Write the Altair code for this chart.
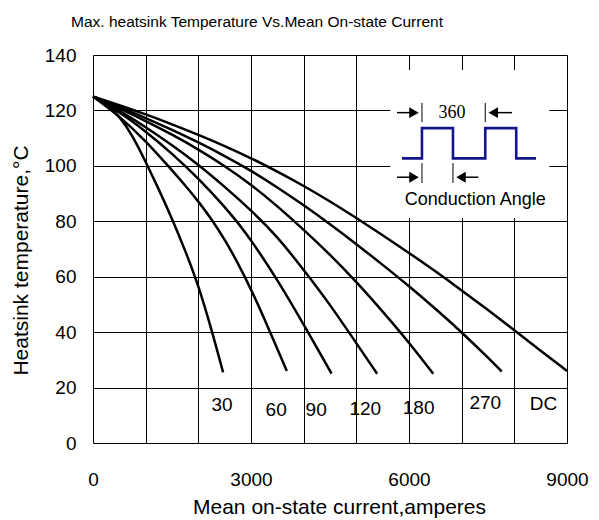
import altair as alt
import pandas as pd

# Heatsink temperature (degC) against mean on-state current (A), one curve per conduction angle
cur_30 = [0, 250, 500, 750, 1000, 1250, 1500, 1750, 2000, 2250, 2470]
temp_30 = [125, 122.5, 118, 111, 101.5, 91.5, 81, 69.5, 57, 41, 25.5]

cur_60 = [0, 500, 1000, 1424, 1750, 2000, 2250, 2500, 2750, 3000, 3250, 3500, 3680]
temp_60 = [125, 118, 109, 100, 93, 87.2, 80.8, 73.5, 65, 55.5, 45, 34, 26]

cur_90 = [0, 500, 1000, 1500, 2000, 2500, 2750, 3000, 3500, 4000, 4530]
temp_90 = [125, 119.5, 112.5, 104.5, 95.5, 85.3, 79.5, 73.3, 59, 42.8, 25]

cur_120 = [0, 500, 1000, 1500, 2000, 2500, 3000, 3500, 4000, 4500, 5000, 5395]
temp_120 = [125, 120, 114, 107.5, 100.5, 92.5, 84, 74.5, 62.5, 50, 36, 25]

cur_180 = [0, 500, 1000, 1500, 2000, 2500, 3000, 3500, 4000, 4500, 5000, 5500, 6000, 6460]
temp_180 = [125, 120.8, 116.2, 111.3, 106, 100, 93.3, 85.5, 77, 68, 58.2, 47.5, 36.3, 25]

cur_270 = [0, 500, 1000, 1500, 2000, 2500, 3000, 3500, 4000, 4500, 5000, 5500, 6000, 6500, 7000, 7500, 7760]
temp_270 = [125, 121.3, 117.3, 113, 108.5, 103.6, 98.3, 92.3, 85.8, 79, 71.8, 64.3, 56.6, 48.5, 40, 30.8, 25.8]

cur_dc = [0, 500, 1000, 1500, 2000, 2500, 3000, 3500, 4000, 4500, 5000, 5500, 6000, 6500, 7000, 7500, 8000, 8500, 9000]
temp_dc = [125, 121.9, 118.6, 115, 111.2, 107.2, 102.8, 98, 92.8, 87.2, 81.2, 75, 68.6, 62, 55.1, 48, 40.7, 33.3, 26]

series = [
    ("30", cur_30, temp_30),
    ("60", cur_60, temp_60),
    ("90", cur_90, temp_90),
    ("120", cur_120, temp_120),
    ("180", cur_180, temp_180),
    ("270", cur_270, temp_270),
    ("DC", cur_dc, temp_dc),
]

# Curve end labels
label_text = ["30", "60", "90", "120", "180", "270", "DC"]
label_x = [2449, 3477, 4237, 5170, 6182, 7448, 8555]
label_y = [13.7, 11.9, 11.9, 12.3, 12.8, 14.4, 14.1]

# Conduction-angle inset (square wave with dimension arrows)
inset_box = {"x": [5645], "x2": [8663], "y": [81.2], "y2": [134.6]}
wave_x = [5867, 6246, 6246, 6835, 6835, 7448, 7448, 8036, 8036, 8411]
wave_y = [102.7, 102.7, 113.6, 113.6, 102.7, 102.7, 113.6, 113.6, 102.7, 102.7]
bar_x = [6246, 7448, 6246, 6835]
bar_y = [115.8, 115.8, 93.8, 93.8]
bar_y2 = [122.7, 122.7, 101.0, 101.0]
shaft_x = [5772, 7600, 5772, 6987]
shaft_x2 = [6095, 7955, 6095, 7315]
shaft_y = [119.2, 119.2, 95.9, 95.9]
head_x = [6095, 7600, 6095, 6987]
head_y = [119.2, 119.2, 95.9, 95.9]
head_dir = ["right", "left", "right", "left"]

FONT = "Liberation Sans"

rows = []
for name, xs_, ys_ in series:
    for xv, yv in zip(xs_, ys_):
        rows.append({"series": name, "x": xv, "y": yv})
curves_df = pd.DataFrame(rows)

x_axis = alt.Axis(
    values=list(range(0, 9001, 1000)),
    labelExpr="datum.value % 3000 === 0 ? datum.label : ''",
    format="d",
    grid=True, gridColor="black", gridWidth=1, gridOpacity=1,
    ticks=False, tickSize=0, domain=False,
    labelFont=FONT, labelFontSize=19, labelColor="black",
    labelPadding=42, labelBaseline="alphabetic", labelFlush=False, labelOverlap=False,
    title="Mean on-state current,amperes",
    titleFont=FONT, titleFontSize=21, titleFontWeight="normal", titleColor="black",
    titleX=246, titleY=70, titleBaseline="alphabetic", titleAlign="center",
)
y_axis = alt.Axis(
    values=list(range(0, 141, 20)),
    grid=True, gridColor="black", gridWidth=1, gridOpacity=1,
    ticks=False, tickSize=0, domain=False,
    labelFont=FONT, labelFontSize=19, labelColor="black",
    labelPadding=17, labelBaseline="middle", labelFlush=False, labelOverlap=False,
    title="Heatsink temperature,°C",
    titleFont=FONT, titleFontSize=21, titleFontWeight="normal", titleColor="black",
    titleX=-72, titleY=205, titleBaseline="middle", titleAlign="center", titleAngle=-90,
)

xs = alt.Scale(domain=[0, 9000], nice=False, zero=False)
ys = alt.Scale(domain=[0, 140], nice=False, zero=False)


def X(field="x"):
    return alt.X(f"{field}:Q", scale=xs, axis=x_axis)


def Y(field="y"):
    return alt.Y(f"{field}:Q", scale=ys, axis=y_axis)


curves = alt.Chart(curves_df).mark_line(
    interpolate="basis", color="black", strokeWidth=2.5
).encode(x=X(), y=Y(), detail="series:N")

labels = alt.Chart(pd.DataFrame({"t": label_text, "x": label_x, "y": label_y})).mark_text(
    font=FONT, fontSize=19, color="black", align="center", baseline="middle"
).encode(x=X(), y=Y(), text="t:N")

box = alt.Chart(pd.DataFrame(inset_box)).mark_rect(color="white", opacity=1).encode(
    x=X(), x2="x2:Q", y=Y(), y2="y2:Q"
)

wave = alt.Chart(pd.DataFrame({"x": wave_x, "y": wave_y, "o": list(range(len(wave_x)))})).mark_line(
    color="#14148c", strokeWidth=2.6
).encode(x=X(), y=Y(), order="o:Q")

bars = alt.Chart(pd.DataFrame({"x": bar_x, "y": bar_y, "y2": bar_y2})).mark_rule(
    color="black", strokeWidth=1
).encode(x=X(), y=Y(), y2="y2:Q")

shafts = alt.Chart(pd.DataFrame({"x": shaft_x, "x2": shaft_x2, "y": shaft_y})).mark_rule(
    color="black", strokeWidth=1.5
).encode(x=X(), x2="x2:Q", y=Y())

heads_df = pd.DataFrame({"x": head_x, "y": head_y, "d": head_dir})
heads_r = alt.Chart(heads_df).transform_filter("datum.d === 'right'").mark_point(
    shape="triangle-right", filled=True, size=120, color="black", opacity=1
).encode(x=X(), y=Y())
heads_l = alt.Chart(heads_df).transform_filter("datum.d === 'left'").mark_point(
    shape="triangle-left", filled=True, size=120, color="black", opacity=1
).encode(x=X(), y=Y())

period_text = alt.Chart(pd.DataFrame({"t": ["360"], "x": [6816], "y": [119.2]})).mark_text(
    font="Liberation Serif", fontSize=18, color="black", align="center", baseline="middle"
).encode(x=X(), y=Y(), text="t:N")

angle_text = alt.Chart(pd.DataFrame({"t": ["Conduction Angle"], "x": [7258], "y": [87.7]})).mark_text(
    font=FONT, fontSize=18, color="black", align="center", baseline="middle"
).encode(x=X(), y=Y(), text="t:N")

chart = alt.layer(
    curves, labels, box, wave, bars, shafts, heads_r, heads_l, period_text, angle_text
).properties(
    width=474,
    height=388,
    autosize=alt.AutoSizeParams(type="none"),
    padding={"left": 93, "top": 55, "right": 32, "bottom": 77},
    title=alt.Title(
        "Max. heatsink Temperature Vs.Mean On-state Current",
        font=FONT, fontSize=15.5, fontWeight="normal", color="black",
        anchor="middle", dx=-73, dy=23, frame="group", offset=27, baseline="alphabetic",
    ),
).configure_view(
    stroke="#666", strokeWidth=2
).configure(background="white")

chart.save("out.html", embed_options={"renderer": "svg", "actions": False})
